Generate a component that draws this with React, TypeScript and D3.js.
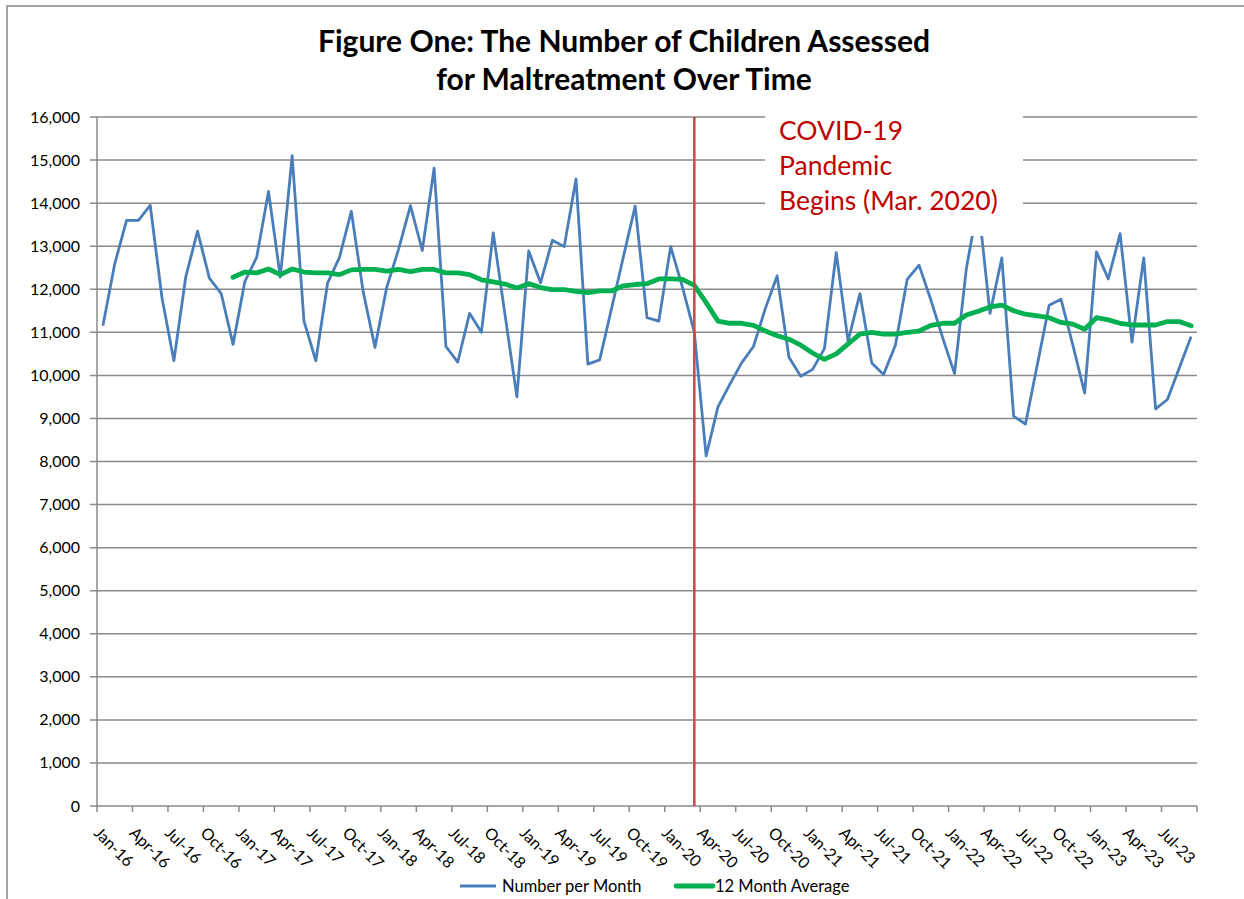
import React from "react";
import * as d3 from "d3";

// monthly values, Jan-16 .. Sep-23
const perMonth = [
  11150, 12590, 13600, 13600, 13950, 11790, 10340, 12280, 13350, 12260, 11900, 10720,
  12180, 12740, 14270, 12280, 15100, 11260, 10340, 12150, 12740, 13810, 11950, 10650,
  12050, 12930, 13940, 12900, 14810, 10670, 10310, 11440, 11000, 13310, 11400, 9500,
  12890, 12150, 13140, 12990, 14560, 10260, 10360, 11550, 12750, 13930, 11340, 11260,
  12990, 12050, 11000, 8130, 9270, 9790, 10290, 10670, 11550, 12310, 10420, 9980,
  10140, 10620, 12850, 10790, 11900, 10290, 10020, 10700, 12230, 12560, 11750, 10870,
  10040, 12480, 14000, 11440, 12730, 9050, 8870, 10250, 11630, 11770, 10710, 9590,
  12870, 12240, 13290, 10770, 12730, 9220, 9440, 10170, 10900,
];

// 12 month average, starts Dec-16
const avg12 = [
  null, null, null, null, null, null, null, null, null, null, null, 12280,
  12400, 12380, 12470, 12340, 12470, 12400, 12380, 12380, 12340, 12450, 12460, 12460,
  12420, 12460, 12410, 12460, 12460, 12380, 12380, 12340, 12220, 12170, 12120, 12030,
  12130, 12040, 11990, 11990, 11950, 11920, 11960, 11960, 12080, 12110, 12130, 12240,
  12240, 12230, 12090, 11690, 11260, 11210, 11210, 11160, 11030, 10920, 10840, 10700,
  10520, 10370, 10500, 10730, 10960, 11000, 10960, 10960, 11000, 11030, 11160, 11210,
  11210, 11400, 11490, 11590, 11630, 11500, 11420, 11380, 11340, 11230, 11190, 11070,
  11340, 11290, 11210, 11170, 11170, 11170, 11250, 11250, 11150,
];

const tickLabels = [
  "Jan-16", "Apr-16", "Jul-16", "Oct-16", "Jan-17", "Apr-17", "Jul-17", "Oct-17",
  "Jan-18", "Apr-18", "Jul-18", "Oct-18", "Jan-19", "Apr-19", "Jul-19", "Oct-19",
  "Jan-20", "Apr-20", "Jul-20", "Oct-20", "Jan-21", "Apr-21", "Jul-21", "Oct-21",
  "Jan-22", "Apr-22", "Jul-22", "Oct-22", "Jan-23", "Apr-23", "Jul-23",
];
const yTicks = d3.range(0, 16001, 1000);
const covidMonth = 50; // Mar-20
const titleLines = ["Figure One: The Number of Children Assessed", "for Maltreatment Over Time"];
const noteLines = ["COVID-19", "Pandemic", "Begins (Mar. 2020)"];

const font = "Lato, 'Open Sans', sans-serif";
const grid = "#8a8a8a";
const left = 97, right = 1197, top = 117, bottom = 806;

function App() {
  const idx = d3.range(perMonth.length);
  const x = d3.scaleBand<number>().domain(idx).range([left, right]).padding(0);
  const cx = (i: number) => (x(i) as number) + x.bandwidth() / 2;
  const y = d3.scaleLinear().domain([0, 16000]).range([bottom, top]);
  const fmt = d3.format(",");

  const blueLine = d3.line<number>().x((_, i) => cx(i)).y((d) => y(d));
  const greenLine = d3
    .line<number | null>()
    .defined((d) => d != null)
    .x((_, i) => cx(i))
    .y((d) => y(d as number));

  const tickIdx = d3.range(0, perMonth.length + 1, 3);

  return (
    <svg width={1244} height={899} style={{ position: "absolute", left: 0, top: 0, background: "#fff" }}>
      <rect x={7} y={6} width={1400} height={1000} fill="#fff" stroke="#878787" strokeWidth={1.5} />

      {titleLines.map((t, i) => (
        <text key={t} x={624} y={52 + i * 38} textAnchor="middle" fontFamily={font} fontWeight="bold" fontSize={30} fill="#000">
          {t}
        </text>
      ))}

      {/* gridlines + y labels */}
      {yTicks.map((v) => (
        <g key={v}>
          <line x1={left - 7} x2={right} y1={y(v)} y2={y(v)} stroke={grid} strokeWidth={1.5} />
          <text x={80} y={y(v) + 5.5} textAnchor="end" fontFamily={font} fontSize={16} fill="#000">
            {fmt(v)}
          </text>
        </g>
      ))}
      <line x1={left} x2={left} y1={top} y2={bottom} stroke={grid} strokeWidth={1.5} />

      {/* x ticks */}
      {tickIdx.map((i) => {
        const tx = i < perMonth.length ? (x(i) as number) : right;
        return <line key={i} x1={tx} x2={tx} y1={bottom} y2={bottom + 6} stroke={grid} strokeWidth={1.5} />;
      })}
      {tickLabels.map((t, k) => {
        const tx = x(k * 3) as number;
        return (
          <text key={t} transform={`translate(${tx - 4},${834}) rotate(45)`} fontFamily={font} fontSize={16} fill="#000">
            {t}
          </text>
        );
      })}

      <path d={blueLine(perMonth) || ""} fill="none" stroke="#4A7EBB" strokeWidth={2.8} strokeLinejoin="round" />
      <path d={greenLine(avg12) || ""} fill="none" stroke="#00B050" strokeWidth={4.8} strokeLinejoin="round" strokeLinecap="round" />

      <line x1={cx(covidMonth)} x2={cx(covidMonth)} y1={top} y2={bottom} stroke="#C0504D" strokeWidth={2.6} />

      {/* note box */}
      <rect x={765} y={109} width={258} height={127} fill="#fff" />
      {noteLines.map((t, i) => (
        <text key={t} x={779} y={140 + i * 35} fontFamily={font} fontSize={26.5} fill="#C00000">
          {t}
        </text>
      ))}

      {/* legend */}
      <line x1={460} x2={496} y1={886} y2={886} stroke="#4A7EBB" strokeWidth={2.8} />
      <text x={502} y={891.5} fontFamily={font} fontSize={16.5} fill="#000">Number per Month</text>
      <line x1={676} x2={713} y1={886} y2={886} stroke="#00B050" strokeWidth={4.8} strokeLinecap="round" />
      <text x={715} y={891.5} fontFamily={font} fontSize={16.5} fill="#000">12 Month Average</text>
    </svg>
  );
}

export default App;
